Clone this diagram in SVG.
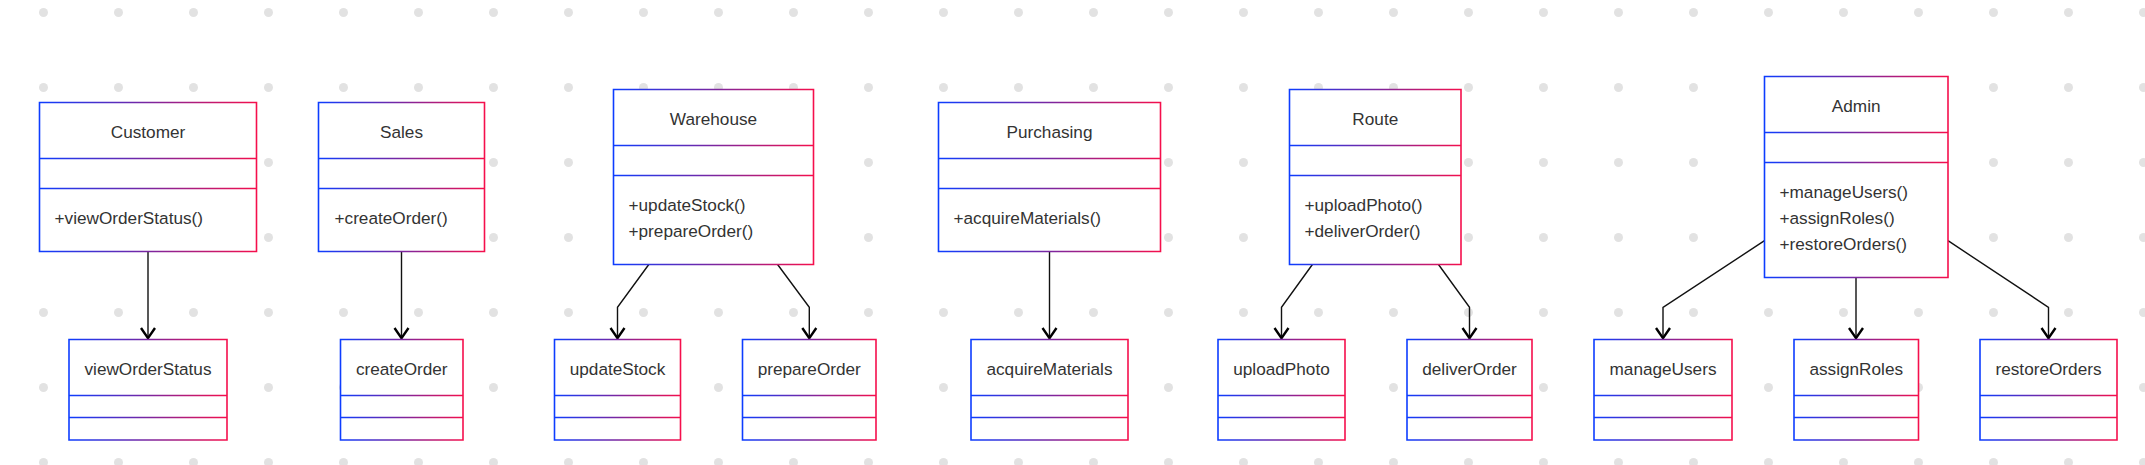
<svg xmlns="http://www.w3.org/2000/svg" width="2145" height="465" viewBox="0 0 2145 465">
<style>
.box{fill:#fff;stroke:url(#g);stroke-width:1.6}
.t{font-family:"Liberation Sans",Arial,sans-serif;font-size:17.2px;fill:#333}
.c{text-anchor:middle}
.edge{fill:none;stroke:#111;stroke-width:1.4}
</style>
<defs>
<linearGradient id="g" x1="0" y1="0" x2="1" y2="0">
<stop offset="0" stop-color="#0d3dff"/>
<stop offset="0.5" stop-color="#7a26a0"/>
<stop offset="1" stop-color="#f50f4c"/>
</linearGradient>
<pattern id="dots" patternUnits="userSpaceOnUse" width="75" height="75">
<circle cx="43.5" cy="12.5" r="4.5" fill="#e2e2e2"/>
</pattern>
<marker id="arr" markerUnits="userSpaceOnUse" markerWidth="24" markerHeight="24" viewBox="-14 -12 24 24" refX="0" refY="0" orient="auto" overflow="visible">
<path d="M-11,-7 L-0.8,0 L-11,7" fill="none" stroke="#000" stroke-width="2.4"/>
</marker>
</defs>
<rect width="2145" height="465" fill="#fff"/>
<rect width="2145" height="465" fill="url(#dots)"/>

<g id="connectors">
<path class="edge" marker-end="url(#arr)" d="M148,251.5 V339"/>
<path class="edge" marker-end="url(#arr)" d="M401.5,251.5 V339"/>
<path class="edge" marker-end="url(#arr)" d="M648.8,264.5 L617.5,307.3 V339"/>
<path class="edge" marker-end="url(#arr)" d="M777.6,264.5 L809.3,307.3 V339"/>
<path class="edge" marker-end="url(#arr)" d="M1049.5,251.5 V339"/>
<path class="edge" marker-end="url(#arr)" d="M1312.4,264.5 L1281.5,307.3 V339"/>
<path class="edge" marker-end="url(#arr)" d="M1438.5,264.5 L1469.5,307.3 V339"/>
<path class="edge" marker-end="url(#arr)" d="M1764.5,240.7 L1663,307.3 V339"/>
<path class="edge" marker-end="url(#arr)" d="M1856,277.5 V339"/>
<path class="edge" marker-end="url(#arr)" d="M1948,240.7 L2048.5,307.3 V339"/>
</g>

<g id="Customer">
<path class="box" d="M39.5,102.5 h217 v149 h-217 Z M39.5,158.5 h217 M39.5,188.5 h217"/>
<text class="t c" x="148" y="138">Customer</text>
<text class="t" x="54.5" y="224">+viewOrderStatus()</text>
</g>
<g id="Sales">
<path class="box" d="M318.5,102.5 h166 v149 h-166 Z M318.5,158.5 h166 M318.5,188.5 h166"/>
<text class="t c" x="401.5" y="138">Sales</text>
<text class="t" x="334.5" y="224">+createOrder()</text>
</g>
<g id="Warehouse">
<path class="box" d="M613.5,89.5 h200 v175 h-200 Z M613.5,145.5 h200 M613.5,175.5 h200"/>
<text class="t c" x="713.5" y="125">Warehouse</text>
<text class="t" x="628.5" y="211">+updateStock()</text>
<text class="t" x="628.5" y="237">+prepareOrder()</text>
</g>
<g id="Purchasing">
<path class="box" d="M938.5,102.5 h222 v149 h-222 Z M938.5,158.5 h222 M938.5,188.5 h222"/>
<text class="t c" x="1049.5" y="138">Purchasing</text>
<text class="t" x="953.5" y="224">+acquireMaterials()</text>
</g>
<g id="Route">
<path class="box" d="M1289.5,89.5 h171.5 v175 h-171.5 Z M1289.5,145.5 h171.5 M1289.5,175.5 h171.5"/>
<text class="t c" x="1375.3" y="125">Route</text>
<text class="t" x="1304.5" y="211">+uploadPhoto()</text>
<text class="t" x="1304.5" y="237">+deliverOrder()</text>
</g>
<g id="Admin">
<path class="box" d="M1764.5,76.5 h183.5 v201 h-183.5 Z M1764.5,132.5 h183.5 M1764.5,162.5 h183.5"/>
<text class="t c" x="1856.2" y="112">Admin</text>
<text class="t" x="1779.5" y="198">+manageUsers()</text>
<text class="t" x="1779.5" y="224">+assignRoles()</text>
<text class="t" x="1779.5" y="250">+restoreOrders()</text>
</g>

<g id="viewOrderStatus">
<path class="box" d="M69,339.5 h158 v100.5 h-158 Z M69,395.5 h158 M69,417.5 h158"/>
<text class="t c" x="148" y="375">viewOrderStatus</text>
</g>
<g id="createOrder">
<path class="box" d="M340.5,339.5 h122.5 v100.5 h-122.5 Z M340.5,395.5 h122.5 M340.5,417.5 h122.5"/>
<text class="t c" x="401.75" y="375">createOrder</text>
</g>
<g id="updateStock">
<path class="box" d="M554.5,339.5 h126 v100.5 h-126 Z M554.5,395.5 h126 M554.5,417.5 h126"/>
<text class="t c" x="617.5" y="375">updateStock</text>
</g>
<g id="prepareOrder">
<path class="box" d="M742.5,339.5 h133.5 v100.5 h-133.5 Z M742.5,395.5 h133.5 M742.5,417.5 h133.5"/>
<text class="t c" x="809.25" y="375">prepareOrder</text>
</g>
<g id="acquireMaterials">
<path class="box" d="M971,339.5 h157 v100.5 h-157 Z M971,395.5 h157 M971,417.5 h157"/>
<text class="t c" x="1049.5" y="375">acquireMaterials</text>
</g>
<g id="uploadPhoto">
<path class="box" d="M1218,339.5 h127 v100.5 h-127 Z M1218,395.5 h127 M1218,417.5 h127"/>
<text class="t c" x="1281.5" y="375">uploadPhoto</text>
</g>
<g id="deliverOrder">
<path class="box" d="M1407,339.5 h125 v100.5 h-125 Z M1407,395.5 h125 M1407,417.5 h125"/>
<text class="t c" x="1469.5" y="375">deliverOrder</text>
</g>
<g id="manageUsers">
<path class="box" d="M1594,339.5 h138 v100.5 h-138 Z M1594,395.5 h138 M1594,417.5 h138"/>
<text class="t c" x="1663" y="375">manageUsers</text>
</g>
<g id="assignRoles">
<path class="box" d="M1794,339.5 h124.5 v100.5 h-124.5 Z M1794,395.5 h124.5 M1794,417.5 h124.5"/>
<text class="t c" x="1856.25" y="375">assignRoles</text>
</g>
<g id="restoreOrders">
<path class="box" d="M1980,339.5 h137 v100.5 h-137 Z M1980,395.5 h137 M1980,417.5 h137"/>
<text class="t c" x="2048.5" y="375">restoreOrders</text>
</g>
</svg>
